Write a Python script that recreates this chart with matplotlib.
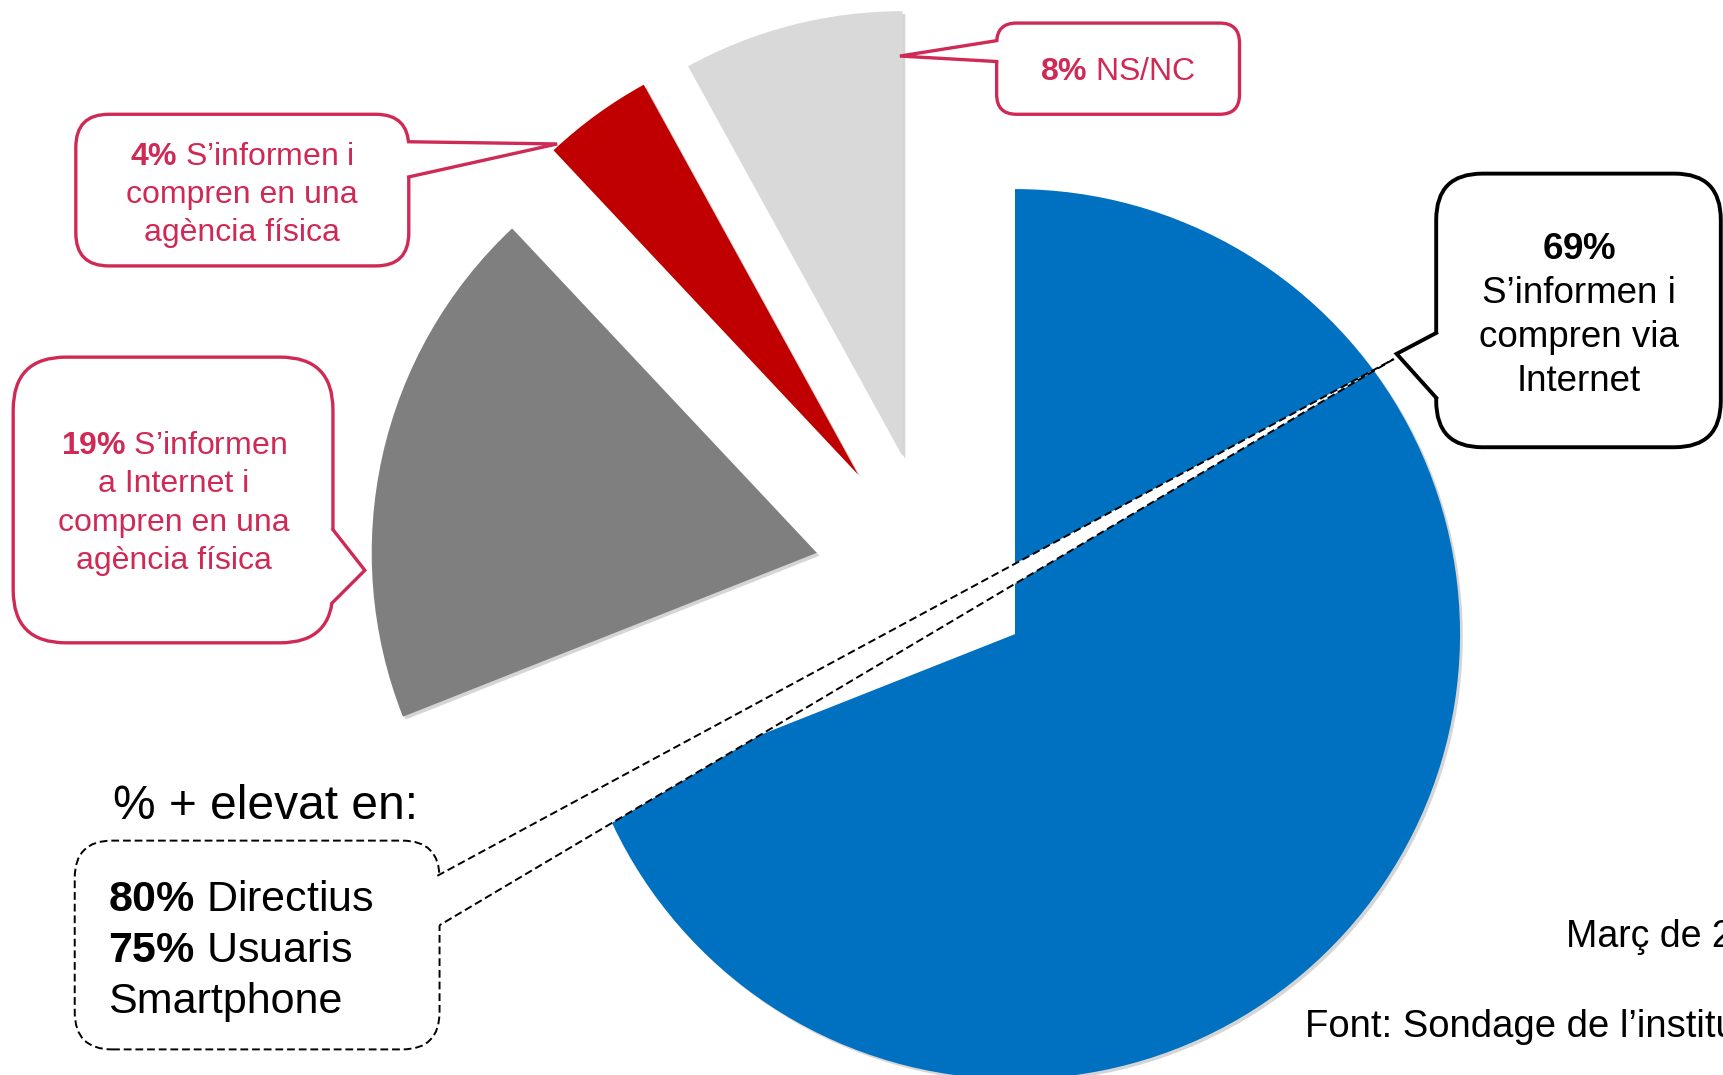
import matplotlib
matplotlib.use("Agg")
import matplotlib.pyplot as plt
import matplotlib.patheffects as pe
from matplotlib.patches import FancyBboxPatch, Polygon
from matplotlib.lines import Line2D

plt.rcParams['font.family'] = ['Liberation Sans', 'DejaVu Sans']
plt.rcParams['mathtext.fontset'] = 'custom'
plt.rcParams['mathtext.rm'] = 'Liberation Sans'
plt.rcParams['mathtext.bf'] = 'Liberation Sans:bold'

# data
shares = [69, 19, 4, 8]
slice_colors = ['#0070C0', '#7F7F7F', '#C00000', '#D9D9D9']
pull_out = [0.22, 0.27, 0.29, 0.285]

label_nsnc = ['$\\bf{8\\%}$ NS/NC']
label_agencia = ['$\\bf{4\\%}$ S’informen i', 'compren en una', 'agència física']
label_mixt = ['$\\bf{19\\%}$ S’informen', 'a Internet i', 'compren en una', 'agència física']
label_internet = ['$\\bf{69\\%}$', 'S’informen i', 'compren via', 'Internet']
elevat_title = '% + elevat en:'
elevat_lines = ['$\\bf{80\\%}$ Directius', '$\\bf{75\\%}$ Usuaris', 'Smartphone']
date_text = 'Març de 2014'
source_text = 'Font: Sondage de l’institut'

CRIMSON = '#CF2A55'

# work in reference pixel units, y measured from the top
W = 1568.0
H = W * 1075 / 1723


def Y(y):
    return H - y


fig = plt.figure(figsize=(17.23, 10.75), dpi=100)
ax = fig.add_axes([0, 0, 1, 1])

radius = 405
wedges, _ = ax.pie(shares, colors=slice_colors, startangle=90, counterclock=False,
                   explode=[p * radius for p in pull_out],
                   center=(850, Y(527)), radius=radius,
                   wedgeprops=dict(linewidth=0, path_effects=[
                       pe.SimplePatchShadow(offset=(2, -2), shadow_rgbFace='#888888', alpha=0.35),
                       pe.Normal()]))
for w in wedges:
    w.set_zorder(1)

ax.set_xlim(0, W)
ax.set_ylim(0, H)
ax.axis('off')


def callout(x0, y0, x1, y1, r, a1, tip, a2, color, lw, ls='-', zbox=4):
    box = FancyBboxPatch((x0, Y(y1)), x1 - x0, y1 - y0,
                         boxstyle=f'round,pad=0,rounding_size={r}',
                         fc='white', ec=color, lw=lw, ls=ls, zorder=zbox)
    ax.add_patch(box)
    inward = 6 if a1[0] < (x0 + x1) / 2 else -6
    pts = [(a1[0] + inward, a1[1]), a1, tip, a2, (a2[0] + inward, a2[1])]
    ax.add_patch(Polygon([(px, Y(py)) for px, py in pts], closed=True,
                         fc='white', ec='none', zorder=zbox + 0.5))
    ax.add_line(Line2D([a1[0], tip[0], a2[0]], [Y(a1[1]), Y(tip[1]), Y(a2[1])],
                       color=color, lw=lw, ls=ls, solid_joinstyle='miter',
                       zorder=zbox + 0.6))


def lines_at(x, y_first, step, lines, size, color, ha='center', weight='normal'):
    for i, s in enumerate(lines):
        ax.text(x, Y(y_first + i * step), s, fontsize=size, color=color,
                ha=ha, va='baseline', weight=weight, zorder=6)


# callouts
callout(907, 21, 1128, 104, 18, (907, 37), (819, 51), (907, 56), CRIMSON, 2.4)
lines_at(1017, 72.5, 0, label_nsnc, 23, CRIMSON)

callout(69, 104, 372, 242, 30, (372, 129), (507, 131), (372, 161), CRIMSON, 2.4)
lines_at(220, 150, 34.5, label_agencia, 23, CRIMSON)

callout(12, 325, 303, 585, 48, (303, 482), (332, 519), (303, 548), CRIMSON, 2.4)
lines_at(158, 413, 35, label_mixt, 23, CRIMSON)

callout(1307, 158, 1566, 407, 42, (1307, 303), (1271, 322), (1307, 362), 'black', 2.8)
lines_at(1437, 236, 40, label_internet, 26.5, 'black')

# dashed box with its long pointer to the blue slice
callout(68, 765, 400, 955, 34, (398, 797), (1268, 327), (400, 842), 'black', 1.4,
        ls=(0, (4, 2)), zbox=3)

ax.text(103, Y(745), elevat_title, fontsize=34.5, ha='left', va='baseline', zorder=6)
lines_at(98, 829, 46.5, elevat_lines, 31, 'black', ha='left')

ax.text(1425, Y(862), date_text, fontsize=27, ha='left', va='baseline', zorder=6)
ax.text(1188, Y(944), source_text, fontsize=27.5, ha='left', va='baseline', zorder=6)

fig.savefig('out.png', dpi=100, facecolor='white')
